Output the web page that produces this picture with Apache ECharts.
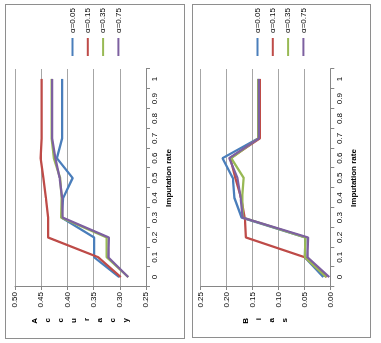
<!DOCTYPE html>
<html><head><meta charset="utf-8">
<script src="https://cdn.jsdelivr.net/npm/echarts@6/dist/echarts.min.js"></script>
<style>
html,body{margin:0;padding:0;background:#fff;width:381px;height:343px;overflow:hidden;position:relative}
.frame{position:absolute;border:1px solid #8e8e8e;box-sizing:border-box}
.chart{position:absolute;transform-origin:0 0;transform:rotate(-90deg)}
</style></head><body>
<div class="frame" style="left:5px;top:4px;width:180px;height:335px"></div>
<div class="frame" style="left:192px;top:4px;width:179px;height:334px"></div>
<div id="c1" class="chart" style="left:5px;top:338px;width:334px;height:179px"></div>
<div id="c2" class="chart" style="left:192px;top:337px;width:333px;height:178px"></div>
<script>
const categories = ['0','0.1','0.2','0.3','0.4','0.5','0.6','0.7','0.8','0.9','1'];
const seriesNames = ['α=0.05','α=0.15','α=0.35','α=0.75'];
const colors = ['#4A7EBB','#BE4B48','#98B954','#7D60A0'];

// Accuracy panel
const accA005 = [0.301,0.349,0.349,0.411,0.408,0.390,0.420,0.410,0.410,0.410,0.410];
const accA015 = [0.298,0.341,0.437,0.437,0.441,0.446,0.451,0.449,0.449,0.449,0.449];
const accA035 = [0.284,0.325,0.325,0.412,0.411,0.414,0.426,0.430,0.430,0.430,0.430];
const accA075 = [0.284,0.322,0.321,0.409,0.410,0.415,0.423,0.429,0.429,0.429,0.429];

// Bias panel
const biasA005 = [0.0135,0.049,0.048,0.171,0.185,0.188,0.208,0.139,0.139,0.139,0.139];
const biasA015 = [0.007,0.049,0.163,0.165,0.172,0.183,0.193,0.136,0.136,0.136,0.136];
const biasA035 = [0.008,0.049,0.048,0.168,0.170,0.167,0.191,0.139,0.139,0.139,0.139];
const biasA075 = [0.002,0.044,0.043,0.169,0.173,0.179,0.195,0.138,0.138,0.138,0.138];

const FONT = "'Liberation Sans Narrow','Arial Narrow','Liberation Sans',sans-serif";

function makeOption(title, dataArr, vmin, vmax, grid, legendPos) {
  return {
    animation: false,
    textStyle: {fontFamily: FONT},
    color: colors,
    grid: grid,
    legend: {
      orient: 'vertical',
      left: legendPos.left, top: legendPos.top,
      icon: 'rect', itemWidth: 18, itemHeight: 2, itemGap: 5.3,
      textStyle: {fontSize: 8, lineHeight: 10, color: '#000', fontFamily: FONT},
      data: seriesNames
    },
    xAxis: {
      type: 'category', data: categories, boundaryGap: true,
      name: 'Imputation rate', nameLocation: 'middle', nameGap: 19,
      nameTextStyle: {fontSize: 8, fontWeight: 'bold', color: '#000', fontFamily: FONT},
      axisLine: {lineStyle: {color: '#868686', width: 1}},
      axisTick: {show: true, length: 4, lineStyle: {color: '#868686'}},
      axisLabel: {fontSize: 8, color: '#000', margin: 5, interval: 0, fontFamily: FONT}
    },
    yAxis: {
      type: 'value', min: vmin, max: vmax, interval: 0.05,
      name: title.split('').join('\n'), nameLocation: 'middle', nameRotate: 0, nameGap: 31,
      nameTextStyle: {fontSize: 8, fontWeight: 'bold', color: '#000', lineHeight: 13, fontFamily: FONT},
      axisLine: {show: true, lineStyle: {color: '#868686'}},
      axisTick: {show: true, length: 3, lineStyle: {color: '#868686'}},
      splitLine: {lineStyle: {color: '#a6a6a6', width: 1}},
      axisLabel: {fontSize: 8, color: '#000', margin: 5, formatter: v => v.toFixed(2), fontFamily: FONT}
    },
    series: dataArr.map((d, i) => ({
      name: seriesNames[i], type: 'line', data: d, symbol: 'none',
      lineStyle: {width: 2.25, color: colors[i]}, itemStyle: {color: colors[i]}
    }))
  };
}

const c1 = echarts.init(document.getElementById('c1'), null, {renderer: 'canvas'});
c1.setOption(makeOption('Accuracy', [accA005, accA015, accA035, accA075], 0.25, 0.50,
  {left: 51, right: 65, top: 10, bottom: 38}, {left: 277, top: 57.5}));
const c2 = echarts.init(document.getElementById('c2'), null, {renderer: 'canvas'});
c2.setOption(makeOption('Bias', [biasA005, biasA015, biasA035, biasA075], 0, 0.25,
  {left: 50, right: 65, top: 8.7, bottom: 39.7}, {left: 276, top: 55.5}));
</script>
</body></html>
